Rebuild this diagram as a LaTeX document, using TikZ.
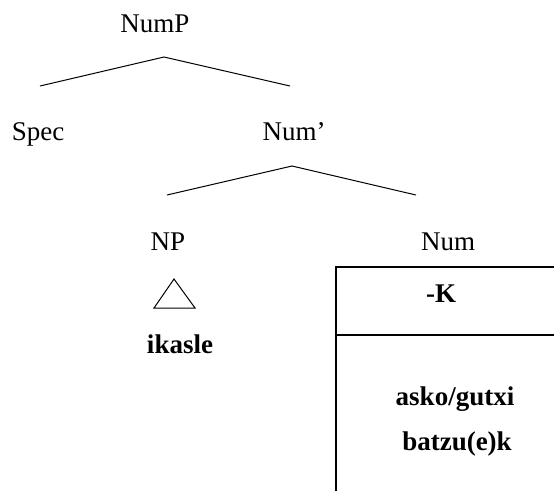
\documentclass[tikz,border=0pt]{standalone}
\usepackage{fontspec}
\setmainfont{Liberation Serif}
\usetikzlibrary{positioning}

\tikzset{
  cat/.style={anchor=base, inner sep=0pt, font=\fontsize{27}{32}\selectfont},
  lex/.style={cat, font=\fontsize{27}{32}\selectfont\bfseries},
  branch/.style={line width=1pt},
  cell/.style={line width=1.6pt}
}

\begin{document}
\begin{tikzpicture}[x=1pt,y=-1pt]
    \useasboundingbox (0,0) rectangle (554,491);
    % categories
    \node[cat] (numP) at (155,32) {NumP};
    \node[cat] (spec) at (38,140) {Spec};
    \node[cat] (numBar) at (294,140) {Num’};
    \node[cat] (np) at (168,250) {NP};
    \node[cat] (num) at (448,250) {Num};
    % branch points
    \coordinate (numP-top) at (164,57);
    \coordinate (spec-end) at (40,86);
    \coordinate (numBar-end) at (290,86);
    \coordinate (numBar-top) at (292,166);
    \coordinate (np-end) at (167,195);
    \coordinate (num-end) at (416,195);
    \draw [branch] (spec-end) -- (numP-top) -- (numBar-end);
    \draw [branch] (np-end) -- (numBar-top) -- (num-end);
    % NP triangle
    \draw [branch] (174,279) -- (154,308) -- (195,308) -- cycle;
    \node[lex] (ikasle) at (180,353) {ikasle};
    % Num box
    \draw [cell] (336,491) -- (336,267) -- (554,267);
    \draw [cell] (336,335) -- (554,335);
    \node[lex] (k) at (441,302) {-K};
    \node[lex] (asko) at (455,405) {asko/gutxi};
    \node[lex] (batzu) at (457,450) {batzu(e)k};
\end{tikzpicture}
\end{document}
